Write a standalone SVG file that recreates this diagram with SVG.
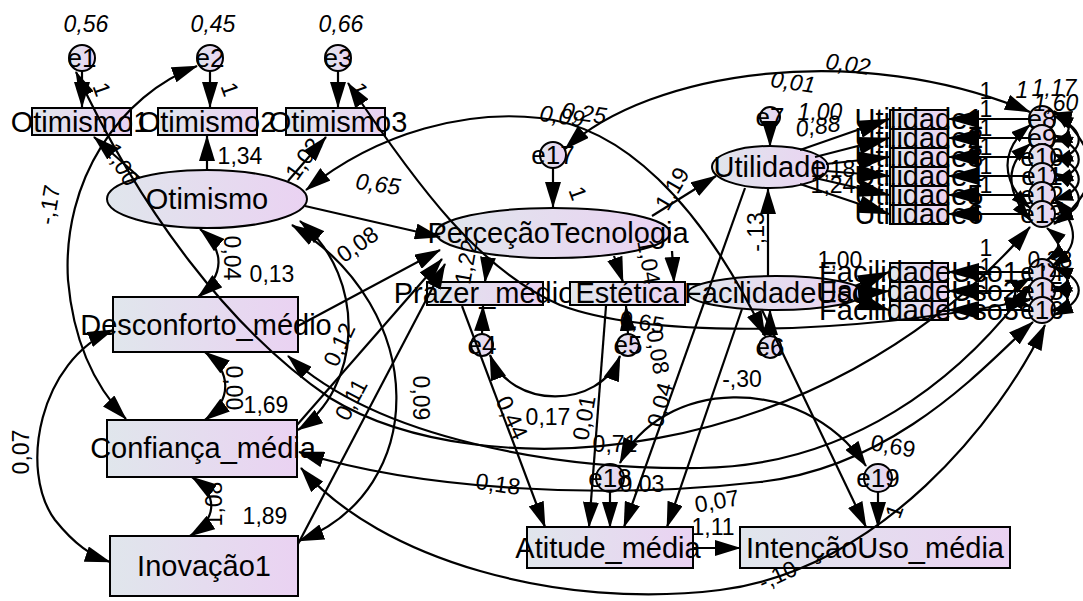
<svg xmlns="http://www.w3.org/2000/svg" width="1083" height="601" viewBox="0 0 1083 601">
<defs>
<linearGradient id="g" x1="0" y1="0" x2="1" y2="0">
<stop offset="0" stop-color="#e0e6ec"/><stop offset="1" stop-color="#ead2f2"/>
</linearGradient>
<marker id="a" markerUnits="userSpaceOnUse" markerWidth="26" markerHeight="16" refX="25" refY="8" orient="auto-start-reverse"><path d="M0,0L26,8L0,16z"/></marker>
<marker id="b" markerUnits="userSpaceOnUse" markerWidth="32" markerHeight="18" refX="31" refY="9" orient="auto-start-reverse"><path d="M0,0L32,9L0,18z"/></marker>
<marker id="s" markerUnits="userSpaceOnUse" markerWidth="20" markerHeight="13" refX="19" refY="6.5" orient="auto-start-reverse"><path d="M0,0L20,6.5L0,13z"/></marker>
<style>
.n{fill:url(#g);stroke:#000;stroke-width:2}
.c{fill:none;stroke:#000;stroke-width:2.2}
.r{marker-end:url(#a)}
.d{marker-start:url(#a);marker-end:url(#a)}
.rb{marker-end:url(#b)}
.ds{marker-start:url(#s);marker-end:url(#s)}
text{font-family:"Liberation Sans",Arial,sans-serif;fill:#000}
.t{font-size:29px;text-anchor:middle}
.e{font-size:26px;text-anchor:middle}
.l{font-size:23px;text-anchor:middle}
.i{font-style:italic}
</style>
</defs>
<rect width="1083" height="601" fill="#fff"/>
<g id="nodes">
<g id="e1"><circle class="n" cx="82" cy="58" r="13"/><text class="e" x="82" y="67">e1</text></g>
<g id="e2"><circle class="n" cx="210" cy="58" r="13"/><text class="e" x="210" y="67">e2</text></g>
<g id="e3"><circle class="n" cx="338" cy="58" r="13"/><text class="e" x="338" y="67">e3</text></g>
<g id="Otimismo1"><rect class="n" x="32" y="108" width="99" height="27"/><text class="t" x="80" y="132">Otimismo1</text></g>
<g id="Otimismo2"><rect class="n" x="158" y="108" width="99" height="27"/><text class="t" x="207" y="132">Otimismo2</text></g>
<g id="Otimismo3"><rect class="n" x="286" y="108" width="99" height="27"/><text class="t" x="338" y="132">Otimismo3</text></g>
<g id="Otimismo"><ellipse class="n" cx="207" cy="199" rx="100" ry="29"/><text class="t" x="207" y="209">Otimismo</text></g>
<g id="Desconforto"><rect class="n" x="113" y="297" width="185" height="55"/><text class="t" x="206" y="335">Desconforto_médio</text></g>
<g id="Confianca"><rect class="n" x="107" y="420" width="190" height="57"/><text class="t" x="203" y="458">Confiança_média</text></g>
<g id="Inovacao"><rect class="n" x="110" y="536" width="188" height="60"/><text class="t" x="204" y="576">Inovação1</text></g>
<g id="e17"><circle class="n" cx="553" cy="155" r="13"/><text class="e" x="553" y="164">e17</text></g>
<g id="Percecao"><ellipse class="n" cx="553" cy="233" rx="117" ry="25"/><text class="t" x="558" y="243">PerceçãoTecnologia</text></g>
<g id="Prazer"><rect class="n" x="427" y="282" width="116" height="23"/><text class="t" x="484" y="303">Prazer_médio</text></g>
<g id="Estetica"><rect class="n" x="570" y="282" width="115" height="23"/><text class="t" x="627" y="303">Estética</text></g>
<g id="FacilidadeUso"><ellipse class="n" cx="776" cy="293" rx="88" ry="17"/><text class="t" x="776" y="303">FacilidadeUso</text></g>
<g id="e7"><circle class="n" cx="770" cy="117" r="10"/><text class="e" x="770" y="126">e7</text></g>
<g id="Utilidade"><ellipse class="n" cx="770" cy="167" rx="58" ry="21"/><text class="t" x="770" y="177">Utilidade</text></g>
<g id="e4"><circle class="n" cx="482" cy="345" r="11"/><text class="e" x="482" y="354">e4</text></g>
<g id="e5"><circle class="n" cx="628" cy="345" r="11"/><text class="e" x="628" y="354">e5</text></g>
<g id="e6"><circle class="n" cx="770" cy="347" r="11"/><text class="e" x="770" y="356">e6</text></g>
<g id="e18"><circle class="n" cx="610" cy="478" r="14"/><text class="e" x="610" y="487">e18</text></g>
<g id="e19"><circle class="n" cx="878" cy="478" r="14"/><text class="e" x="878" y="487">e19</text></g>
<g id="Atitude"><rect class="n" x="527" y="527" width="166" height="41"/><text class="t" x="608" y="558">Atitude_média</text></g>
<g id="Intencao"><rect class="n" x="740" y="527" width="270" height="41"/><text class="t" x="875" y="558">IntençãoUso_média</text></g>
<g id="Utilidade1"><rect class="n" x="890" y="110" width="58" height="19"/><text class="t" x="919" y="129">Utilidade1</text></g>
<g id="Utilidade2"><rect class="n" x="890" y="129" width="58" height="19"/><text class="t" x="919" y="148">Utilidade2</text></g>
<g id="Utilidade3"><rect class="n" x="890" y="148" width="58" height="19"/><text class="t" x="919" y="167">Utilidade3</text></g>
<g id="Utilidade4"><rect class="n" x="890" y="167" width="58" height="19"/><text class="t" x="919" y="186">Utilidade4</text></g>
<g id="Utilidade5"><rect class="n" x="890" y="186" width="58" height="19"/><text class="t" x="919" y="205">Utilidade5</text></g>
<g id="Utilidade6"><rect class="n" x="890" y="205" width="58" height="19"/><text class="t" x="919" y="224">Utilidade6</text></g>
<g id="e8"><circle class="n" cx="1042" cy="119" r="13"/><text class="e" x="1042" y="128">e8</text></g>
<g id="e9"><circle class="n" cx="1042" cy="138" r="13"/><text class="e" x="1042" y="147">e9</text></g>
<g id="e10"><circle class="n" cx="1042" cy="157" r="13"/><text class="e" x="1042" y="166">e10</text></g>
<g id="e11"><circle class="n" cx="1042" cy="176" r="13"/><text class="e" x="1042" y="185">e11</text></g>
<g id="e12"><circle class="n" cx="1042" cy="195" r="13"/><text class="e" x="1042" y="204">e12</text></g>
<g id="e13"><circle class="n" cx="1042" cy="214" r="13"/><text class="e" x="1042" y="223">e13</text></g>
<g id="FacilidadeUso1"><rect class="n" x="890" y="263" width="58" height="19"/><text class="t" x="919" y="282">FacilidadeUso1</text></g>
<g id="FacilidadeUso2"><rect class="n" x="890" y="282" width="58" height="19"/><text class="t" x="919" y="301">FacilidadeUso2</text></g>
<g id="FacilidadeUso3"><rect class="n" x="890" y="301" width="58" height="19"/><text class="t" x="919" y="320">FacilidadeUso3</text></g>
<g id="e14"><circle class="n" cx="1042" cy="272" r="13"/><text class="e" x="1042" y="281">e14</text></g>
<g id="e15"><circle class="n" cx="1042" cy="291" r="13"/><text class="e" x="1042" y="300">e15</text></g>
<g id="e16"><circle class="n" cx="1042" cy="310" r="13"/><text class="e" x="1042" y="319">e16</text></g>
</g>
<g id="connectors" class="c">
<path class="r" d="M82,71L82,107"/>
<path class="r" d="M210,71L210,107"/>
<path class="r" d="M338,71L338,107"/>
<path class="r" d="M140,178L94,137"/>
<path class="r" d="M207,170L207,136"/>
<path class="r" d="M288,181L326,137"/>
<path class="r" d="M305,206L440,237"/>
<path class="r" d="M298,326L440,250"/>
<path class="r" d="M297,425L442,259"/>
<path class="r" d="M298,544L445,264"/>
<path class="r" d="M553,168L553,207"/>
<path class="r" d="M488,257L485,282"/>
<path class="r" d="M614,256L623,282"/>
<path class="r" d="M672,251L674,282"/>
<path class="r" d="M652,216L716,176"/>
<path class="r" d="M768,276L768,189"/>
<path class="r" d="M770,127L770,146"/>
<path class="r" d="M482,334L483,306"/>
<path class="r" d="M628,334L626,306"/>
<path class="r" d="M770,336L770,310"/>
<path class="r" d="M462,306L545,527"/>
<path class="r" d="M606,306L589,527"/>
<path class="r" d="M745,188L624,527"/>
<path class="r" d="M742,309L667,527"/>
<path class="r" d="M610,492L610,527"/>
<path class="r" d="M693,548L740,548"/>
<path class="r" d="M878,492L878,527"/>
<path class="r" d="M762,310L866,527"/>
<path class="rb" d="M800,150L889,119"/>
<path class="rb" d="M815,157L889,138"/>
<path class="rb" d="M826,164L889,157"/>
<path class="rb" d="M826,171L889,176"/>
<path class="rb" d="M815,178L889,195"/>
<path class="rb" d="M800,184L889,214"/>
<path class="rb" d="M1029,119L948,119"/>
<path class="rb" d="M1029,138L948,138"/>
<path class="rb" d="M1029,157L948,157"/>
<path class="rb" d="M1029,176L948,176"/>
<path class="rb" d="M1029,195L948,195"/>
<path class="rb" d="M1029,214L948,214"/>
<path class="rb" d="M855,286L889,272"/>
<path class="rb" d="M864,293L889,291"/>
<path class="rb" d="M855,300L889,310"/>
<path class="rb" d="M1029,272L948,272"/>
<path class="rb" d="M1029,291L948,291"/>
<path class="rb" d="M1029,310L948,310"/>
<path class="d" d="M197,66C120,95 62,180 68,280C74,350 100,392 126,419"/>
<path class="d" d="M113,330C40,360 18,470 55,520C75,545 92,556 110,562"/>
<path class="d" d="M200,229C225,250 225,275 198,297"/>
<path class="d" d="M205,352C232,372 232,400 205,420"/>
<path class="d" d="M192,477C218,495 218,518 190,536"/>
<path class="d" d="M300,221C370,280 360,390 298,430"/>
<path class="d" d="M292,225C430,310 430,490 299,541"/>
<path class="d" d="M306,190C380,130 470,110 540,118C620,126 700,200 765,336"/>
<path class="d" d="M565,149C650,70 860,40 1030,112"/>
<path class="d" d="M348,83C420,190 480,270 560,305C640,335 820,340 1030,300"/>
<path class="d" d="M76,72C140,210 230,330 330,398C480,490 820,470 1030,227"/>
<path class="d" d="M288,356C380,440 560,470 700,468C850,466 960,380 1030,285"/>
<path class="d" d="M299,452C420,490 600,500 760,482C900,466 990,360 1033,322"/>
<path class="d" d="M301,468C380,560 560,610 720,590C880,570 1000,420 1045,325"/>
<path class="d" d="M490,355C510,410 600,410 620,356"/>
<path class="d" d="M620,463C660,380 800,370 866,466"/>
<path class="ds" d="M1053,113C1074,118 1074,136 1053,142"/>
<path class="ds" d="M1054,116C1087,130 1087,150 1054,162"/>
<path class="ds" d="M1054,135C1087,150 1087,170 1054,181"/>
<path class="ds" d="M1054,154C1087,170 1087,190 1054,200"/>
<path class="ds" d="M1054,173C1087,190 1087,210 1054,219"/>
<path class="ds" d="M1054,111C1102,150 1102,190 1054,224"/>
<path class="ds" d="M1054,198C1082,230 1077,250 1052,266"/>
<path class="ds" d="M1047,228C1062,240 1062,250 1047,260"/>
<path class="ds" d="M1030,125C1000,150 1000,180 1030,208"/>
<path class="ds" d="M1030,144C1005,165 1005,190 1030,220"/>
<path class="ds" d="M1054,267C1087,280 1087,300 1054,315"/>
<path class="ds" d="M1053,267C1072,275 1072,285 1053,292"/>
<path class="ds" d="M1053,286C1072,294 1072,304 1053,311"/>
<path class="ds" d="M1030,278C1010,290 1010,300 1030,306"/>
</g>
<g id="labels">
<text class="l i" x="86" y="32">0,56</text>
<text class="l i" x="213" y="32">0,45</text>
<text class="l i" x="341" y="32">0,66</text>
<text class="l" x="100" y="96" transform="rotate(70 100 90)">1</text>
<text class="l" x="228" y="96" transform="rotate(70 228 90)">1</text>
<text class="l" x="357" y="96" transform="rotate(70 357 90)">1</text>
<text class="l" x="121" y="172" transform="rotate(60 121 165)">1,00</text>
<text class="l" x="240" y="164">1,34</text>
<text class="l" x="305" y="166" transform="rotate(-55 305 160)">1,02</text>
<text class="l i" x="378" y="192" transform="rotate(8 378 185)">0,65</text>
<text class="l i" x="562" y="124" transform="rotate(8 562 117)">0,09</text>
<text class="l i" x="584" y="121" transform="rotate(8 584 114)">0,25</text>
<text class="l" x="576" y="200" transform="rotate(70 576 194)">1</text>
<text class="l i" x="848" y="72" transform="rotate(8 848 65)">0,02</text>
<text class="l i" x="793" y="90" transform="rotate(8 793 83)">0,01</text>
<text class="l" x="673" y="196" transform="rotate(-60 673 189)">1,19</text>
<text class="l" x="757" y="239" transform="rotate(-90 757 232)">-,13</text>
<text class="l" x="231" y="265" transform="rotate(90 231 258)">0,04</text>
<text class="l" x="272" y="282">0,13</text>
<text class="l" x="233" y="395" transform="rotate(90 233 388)">0,00</text>
<text class="l" x="266" y="413">1,69</text>
<text class="l" x="215" y="511" transform="rotate(-90 215 504)">1,08</text>
<text class="l" x="265" y="524">1,89</text>
<text class="l" x="50" y="212" transform="rotate(-80 50 205)">-,17</text>
<text class="l" x="22" y="459" transform="rotate(-90 22 452)">0,07</text>
<text class="l" x="358" y="252" transform="rotate(-35 358 245)">0,08</text>
<text class="l" x="340" y="352" transform="rotate(-65 340 345)">0,12</text>
<text class="l" x="352" y="407" transform="rotate(-62 352 400)">0,11</text>
<text class="l" x="420" y="405" transform="rotate(90 420 398)">0,09</text>
<text class="l" x="467" y="269" transform="rotate(-80 467 262)">1,22</text>
<text class="l" x="648" y="269" transform="rotate(80 648 262)">1,04</text>
<text class="l" x="642" y="330" transform="rotate(10 642 323)">0,65</text>
<text class="l" x="657" y="359" transform="rotate(80 657 352)">0,08</text>
<text class="l" x="548" y="425">0,17</text>
<text class="l" x="511" y="425" transform="rotate(65 511 418)">0,44</text>
<text class="l" x="585" y="425" transform="rotate(-80 585 418)">0,01</text>
<text class="l" x="661" y="412" transform="rotate(-75 661 405)">0,04</text>
<text class="l" x="615" y="452">0,71</text>
<text class="l" x="498" y="492" transform="rotate(8 498 485)">0,18</text>
<text class="l" x="642" y="492">0,03</text>
<text class="l" x="717" y="509" transform="rotate(-10 717 502)">0,07</text>
<text class="l" x="713" y="535">1,11</text>
<text class="l" x="893" y="454" transform="rotate(10 893 447)">0,69</text>
<text class="l" x="896" y="518" transform="rotate(-70 896 512)">1</text>
<text class="l" x="742" y="387">-,30</text>
<text class="l" x="778" y="583" transform="rotate(-25 778 576)">-,10</text>
<text class="l i" x="820" y="120">1,00</text>
<text class="l i" x="818" y="134" transform="rotate(-8 818 127)">0,88</text>
<text class="l" x="833" y="177">1,18</text>
<text class="l" x="833" y="193">1,24</text>
<text class="l" x="840" y="268">1,00</text>
<text class="l" x="986" y="99">1</text>
<text class="l" x="986" y="117">1</text>
<text class="l" x="986" y="136">1</text>
<text class="l" x="986" y="155">1</text>
<text class="l" x="986" y="174">1</text>
<text class="l" x="986" y="193">1</text>
<text class="l" x="986" y="256">1</text>
<text class="l" x="986" y="275">1</text>
<text class="l" x="986" y="294">1</text>
<text class="l i" x="1022" y="98">1</text>
<text class="l i" x="1054" y="96">1,17</text>
<text class="l i" x="1056" y="111">1,60</text>
<text class="l" x="1050" y="268">0,38</text>
</g>
</svg>
